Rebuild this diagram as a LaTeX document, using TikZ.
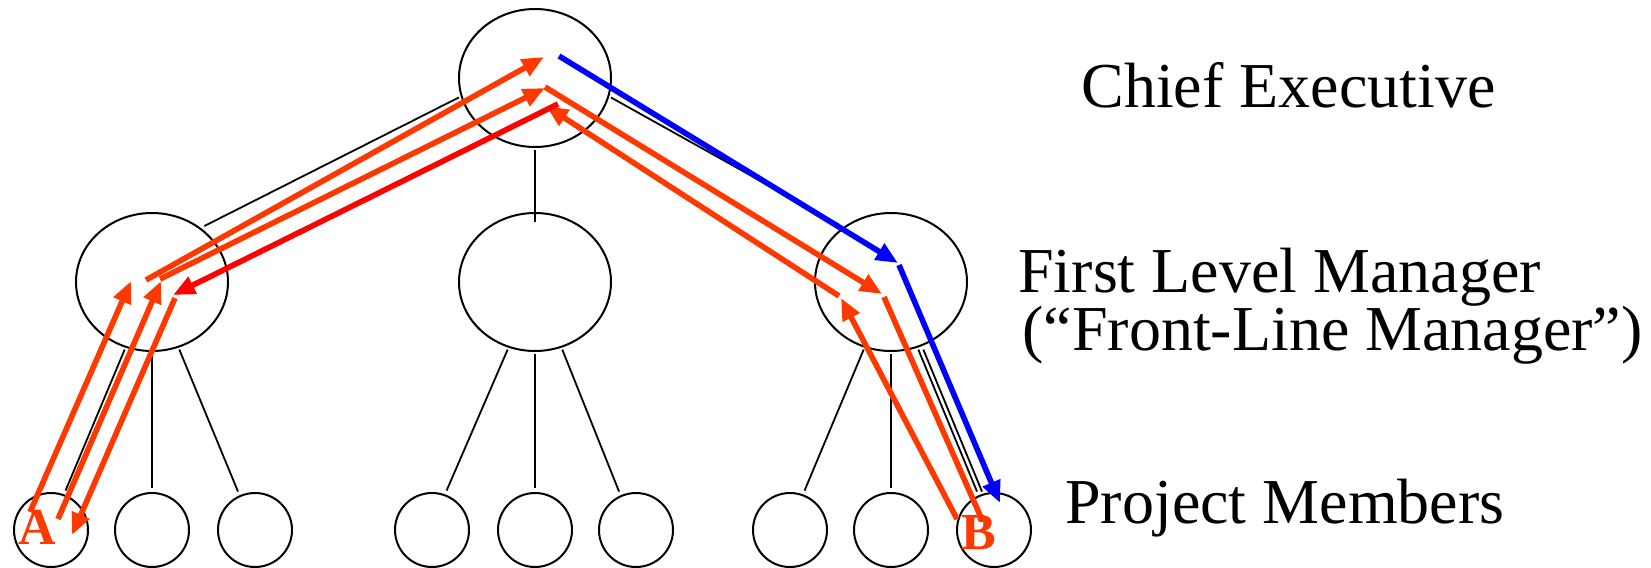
\documentclass[tikz,border=0pt]{standalone}
\usepackage{fontspec}
\setmainfont{Liberation Serif}
\usetikzlibrary{arrows.meta,shapes.geometric}

\definecolor{flowred}{RGB}{255,56,0}
\definecolor{hotred}{RGB}{255,0,0}
\definecolor{flowblue}{RGB}{0,0,255}

\begin{document}
\begin{tikzpicture}[x=0.5pt, y=-0.5pt,
    boss/.style={ellipse, draw, line width=1pt, minimum width=76pt, minimum height=69pt, inner sep=0pt},
    member/.style={circle, draw, line width=1pt, minimum size=37pt, inner sep=0pt},
    edge/.style={draw, line width=0.9pt, shorten <=1pt, shorten >=2pt},
    flow/.style={line width=2.8pt, -{Triangle[length=11pt, width=9pt]}},
    title/.style={font=\fontsize{32}{29}\selectfont, anchor=base west, inner sep=0pt},
    tag/.style={font=\fontsize{26}{26}\selectfont\bfseries, text=flowred, inner sep=0pt}
]
    \useasboundingbox (0,0) rectangle (1651,568);

    % hierarchy
    \node [boss] (ceo) at (535,78) {};
    \node [boss] (mgrA) at (152,282) {};
    \node [boss] (mgrM) at (535,282) {};
    \node [boss] (mgrB) at (891,282) {};

    \node [member] (memA1) at (51,530) {};
    \node [member] (memA2) at (152,530) {};
    \node [member] (memA3) at (255,530) {};
    \node [member] (memM1) at (432,530) {};
    \node [member] (memM2) at (535,530) {};
    \node [member] (memM3) at (636,530) {};
    \node [member] (memB1) at (790,530) {};
    \node [member] (memB2) at (891,530) {};
    \node [member] (memB3) at (994,530) {};

    \draw [edge] (ceo.194) -- (mgrA.48);
    \draw [edge, shorten >=-5pt] (ceo.south) -- (mgrM.north);
    \draw [edge] (ceo.346) -- (mgrB.131);
    \foreach \g in {A,M,B} {
        \draw [edge] (mgr\g.248) -- (mem\g1.70);
        \draw [edge] (mgr\g.south) -- (mem\g2.north);
        \draw [edge] (mgr\g.292) -- (mem\g3.114);
    }
    \draw [edge] ([xshift=2.5pt]mgrB.292) -- ([xshift=2.5pt]memB3.114);

    % arrow ends
    \coordinate (aUp1) at (30,512);
    \coordinate (aUp2) at (58,519);
    \coordinate (aDown) at (72,535);
    \coordinate (mgrAIn1) at (131,281);
    \coordinate (mgrAOut1) at (146,280);
    \coordinate (mgrAIn2) at (161,281);
    \coordinate (mgrAOut2) at (160,279);
    \coordinate (mgrAIn3) at (173,295);
    \coordinate (mgrAOut3) at (175,298);
    \coordinate (ceoIn1) at (544,57);
    \coordinate (ceoIn2) at (545,88);
    \coordinate (ceoOut2) at (545,87);
    \coordinate (ceoIn3) at (546,106);
    \coordinate (ceoOut3) at (558,104);
    \coordinate (ceoOut4) at (559,56);
    \coordinate (mgrBIn1) at (882,294);
    \coordinate (mgrBOut1) at (884,297);
    \coordinate (mgrBIn2) at (841,298);
    \coordinate (mgrBOut2) at (839,296);
    \coordinate (mgrBIn3) at (898,263);
    \coordinate (mgrBOut3) at (899,265);
    \coordinate (bDown) at (983,522);
    \coordinate (bUp) at (957,519);
    \coordinate (bBlue) at (1000,503);

    % A to B
    \draw [flow, flowred] (aUp1) -- (mgrAIn1);
    \draw [flow, flowred] (mgrAOut1) -- (ceoIn1);
    \draw [flow, flowred] (aUp2) -- (mgrAIn2);
    \draw [flow, flowred] (mgrAOut2) -- (ceoIn2);
    \draw [flow, flowred] (ceoOut2) -- (mgrBIn1);
    \draw [flow, flowred, -{Circle[length=4pt]}] (mgrBOut1) -- (bDown);

    % B back to A
    \draw [flow, flowred] (bUp) -- (mgrBIn2);
    \draw [flow, flowred] (mgrBOut2) -- (ceoIn3);
    \draw [flow, hotred] (ceoOut3) -- (mgrAIn3);
    \draw [flow, flowred] (mgrAOut3) -- (aDown);

    % direct order from the top
    \draw [flow, flowblue] (ceoOut4) -- (mgrBIn3);
    \draw [flow, flowblue] (mgrBOut3) -- (bBlue);

    \node [tag] (tagA) at (37,527) {A};
    \node [tag] (tagB) at (979,533) {B};

    % level names
    \node [title] (ceoName) at (1081,107) {Chief Executive};
    \node [title] (mgrName) at (1018,292) {First Level Manager};
    \node [title] (mgrAlias) at (1022,350) {(“Front-Line Manager”)};
    \node [title] (memName) at (1065,523) {Project Members};
\end{tikzpicture}
\end{document}
